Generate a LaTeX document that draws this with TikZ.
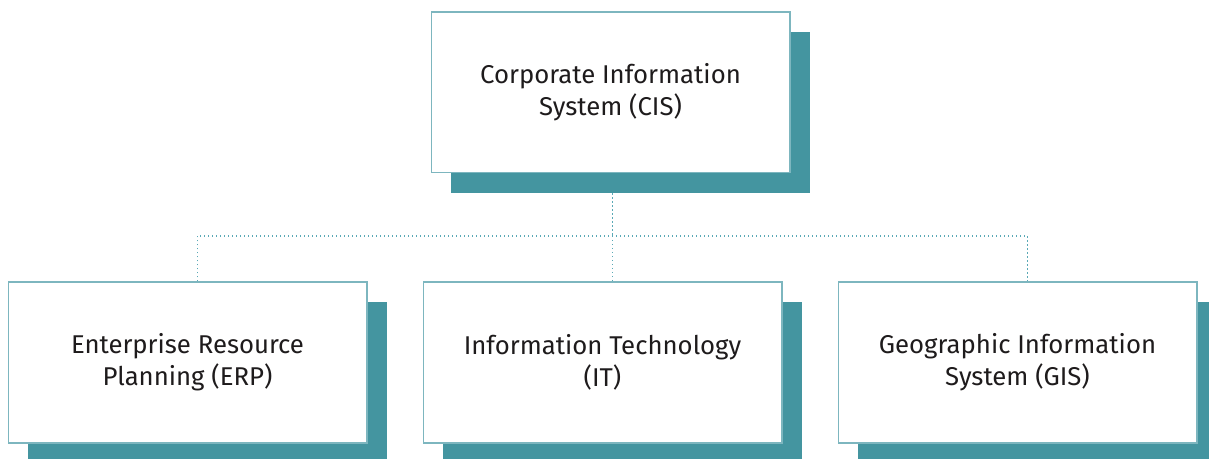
\documentclass[tikz,border=0pt]{standalone}
\usepackage{fontspec}
\setmainfont{Fira Sans}
\usetikzlibrary{shadows,backgrounds}

\definecolor{shadowteal}{HTML}{4495A0}
\definecolor{edgeteal}{HTML}{7DB6BF}
\definecolor{dotteal}{HTML}{5AA9B6}
\definecolor{textgrey}{HTML}{1E1B1C}

\tikzset{
    unitbox/.style={draw=edgeteal, line width=1pt, fill=white,
        minimum width=269pt, minimum height=120.5pt, inner sep=0pt,
        align=center, text=textgrey, font=\fontsize{19.3}{24}\selectfont,
        drop shadow={shadow xshift=15pt, shadow yshift=-15pt,
            fill=shadowteal, opacity=1}},
    link/.style={draw=dotteal, line width=1pt, dotted}
}

\begin{document}
\begin{tikzpicture}[x=0.75pt, y=-0.75pt]
    \useasboundingbox (0, 0) rectangle (1209, 459);
    \node [unitbox] (CIS) at (610.5, 92.5) {Corporate Information\\System (CIS)};
        \node [unitbox] (ERP) at (187.5, 362.5) {Enterprise Resource\\Planning (ERP)};
        \node [unitbox] (IT) at (602.5, 362.5) {Information Technology\\(IT)};
        \node [unitbox] (GIS) at (1017.5, 362.5) {Geographic Information\\System (GIS)};
    \coordinate (bus) at (0, 236);
    \begin{scope}[on background layer]
        \draw [link] ([xshift=7.5pt]IT.north |- CIS.south) -- ([xshift=7.5pt]IT.north |- bus);
        \draw [link] ([xshift=7.5pt]ERP.north) -- ([xshift=7.5pt]ERP.north |- bus)
            -- ([xshift=7.5pt]GIS.north |- bus) -- ([xshift=7.5pt]GIS.north);
        \draw [link] ([xshift=7.5pt]IT.north |- bus) -- ([xshift=7.5pt]IT.north);
    \end{scope}
\end{tikzpicture}
\end{document}
